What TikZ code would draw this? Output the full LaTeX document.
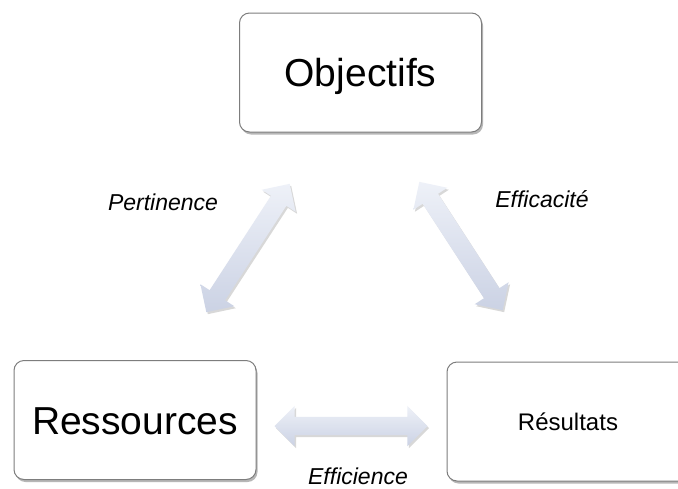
\documentclass[tikz,border=0pt]{standalone}
\usepackage{fontspec}
\setmainfont{Liberation Sans}
\usetikzlibrary{shapes.arrows,shadows}
\definecolor{boxline}{RGB}{125,125,125}
\definecolor{arrowtop}{RGB}{238,241,248}
\definecolor{arrowbot}{RGB}{203,210,228}
\tikzset{
    goal/.style = {
        draw=boxline,
        shape=rectangle,
        rounded corners=10pt,
        minimum width=242pt,
        minimum height=119pt,
        line width=1pt,
        fill=white,
        text height=28pt,
        text depth=0pt,
        font=\fontsize{39}{45}\selectfont,
        drop shadow={shadow xshift=1.5pt, shadow yshift=-2.5pt, opacity=0.4, fill=black!70}
    },
    link/.style = {
        shape=double arrow,
        minimum height=153pt,
        inner sep=9pt,
        double arrow head extend=11pt,
        top color=arrowtop,
        bottom color=arrowbot,
        drop shadow={shadow xshift=1.5pt, shadow yshift=-2pt, opacity=0.25, fill=black!60}
    },
    tag/.style = {
        anchor=base,
        inner sep=0pt,
        font=\fontsize{23}{27}\selectfont\itshape
    }
}

\begin{document}
\begin{tikzpicture}[x=1pt,y=-1pt]
            \clip (0,0) rectangle (678,488);
            \fill[white] (0,0) rectangle (678,488);

            \node[goal] (obj) at (360.5,72.5) {Objectifs};
            \node[goal] (res) at (135,420) {Ressources};
            \node[goal, text height=17pt, font=\fontsize{24}{28}\selectfont] (out) at (568,421.5) {Résultats};

            \node[link, rotate=57] (pert) at (248,248) {};
            \node[link, rotate=-57] (effc) at (461,246) {};
            \node[link] (effi) at (351,426) {};

            \node[tag] (tpert) at (163,210) {Pertinence};
            \node[tag] (teffc) at (542,207) {Efficacité};
            \node[tag] (teffi) at (358,484) {Efficience};
        \end{tikzpicture}
\end{document}
